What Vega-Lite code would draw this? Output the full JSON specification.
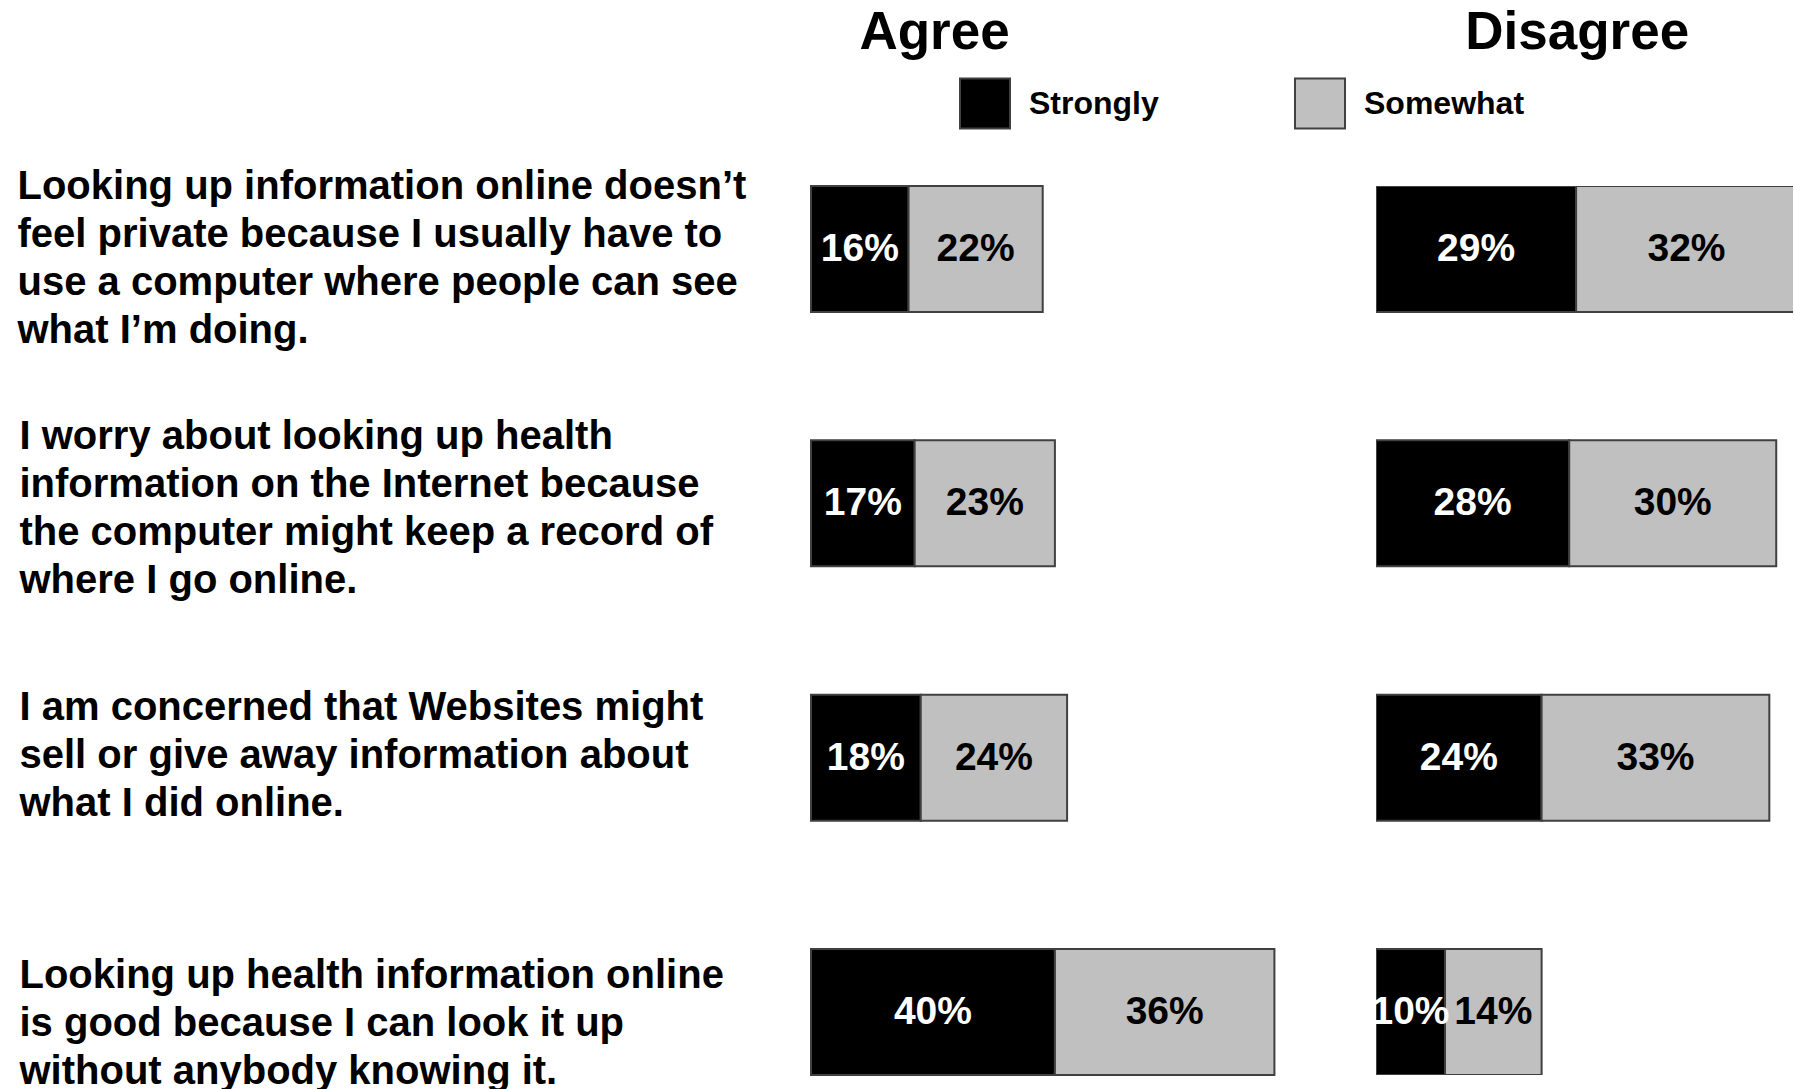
{
  "$schema": "https://vega.github.io/schema/vega-lite/v6.json",
  "padding": {"left": 17, "top": 6, "right": 0, "bottom": 0},
  "autosize": {"type": "pad"},
  "background": "white",
  "bounds": "flush",
  "config": {"font": "Liberation Sans", "view": {"stroke": null}},
  "spacing": 65,
  "resolve": {"scale": {"x": "independent"}},
  "datasets": {
    "survey": [
      {"q": "Looking up information online doesn’t|feel private because I usually have to|use a computer where people can see|what I’m doing.", "side": "Agree", "level": "Strongly", "rank": 1, "pct": 0.16},
      {"q": "Looking up information online doesn’t|feel private because I usually have to|use a computer where people can see|what I’m doing.", "side": "Agree", "level": "Somewhat", "rank": 2, "pct": 0.22},
      {"q": "Looking up information online doesn’t|feel private because I usually have to|use a computer where people can see|what I’m doing.", "side": "Disagree", "level": "Strongly", "rank": 1, "pct": 0.29},
      {"q": "Looking up information online doesn’t|feel private because I usually have to|use a computer where people can see|what I’m doing.", "side": "Disagree", "level": "Somewhat", "rank": 2, "pct": 0.32},
      {"q": "I worry about looking up health|information on the Internet because|the computer might keep a record of|where I go online.", "side": "Agree", "level": "Strongly", "rank": 1, "pct": 0.17},
      {"q": "I worry about looking up health|information on the Internet because|the computer might keep a record of|where I go online.", "side": "Agree", "level": "Somewhat", "rank": 2, "pct": 0.23},
      {"q": "I worry about looking up health|information on the Internet because|the computer might keep a record of|where I go online.", "side": "Disagree", "level": "Strongly", "rank": 1, "pct": 0.28},
      {"q": "I worry about looking up health|information on the Internet because|the computer might keep a record of|where I go online.", "side": "Disagree", "level": "Somewhat", "rank": 2, "pct": 0.30},
      {"q": "I am concerned that Websites might|sell or give away information about|what I did online.", "side": "Agree", "level": "Strongly", "rank": 1, "pct": 0.18},
      {"q": "I am concerned that Websites might|sell or give away information about|what I did online.", "side": "Agree", "level": "Somewhat", "rank": 2, "pct": 0.24},
      {"q": "I am concerned that Websites might|sell or give away information about|what I did online.", "side": "Disagree", "level": "Strongly", "rank": 1, "pct": 0.24},
      {"q": "I am concerned that Websites might|sell or give away information about|what I did online.", "side": "Disagree", "level": "Somewhat", "rank": 2, "pct": 0.33},
      {"q": "Looking up health information online|is good because I can look it up|without anybody knowing it.", "side": "Agree", "level": "Strongly", "rank": 1, "pct": 0.40},
      {"q": "Looking up health information online|is good because I can look it up|without anybody knowing it.", "side": "Agree", "level": "Somewhat", "rank": 2, "pct": 0.36},
      {"q": "Looking up health information online|is good because I can look it up|without anybody knowing it.", "side": "Disagree", "level": "Strongly", "rank": 1, "pct": 0.10},
      {"q": "Looking up health information online|is good because I can look it up|without anybody knowing it.", "side": "Disagree", "level": "Somewhat", "rank": 2, "pct": 0.14}
    ]
  },
  "hconcat": [
    {
      "width": 500,
      "height": 889,
      "data": {"name": "survey"},
      "transform": [
        {"filter": "datum.side === 'Agree'"},
        {"stack": "pct", "groupby": ["q"], "sort": [{"field": "rank"}], "as": ["x0", "x1"]},
        {"calculate": "(datum.x0 + datum.x1) / 2", "as": "xm"}
      ],
      "encoding": {
        "y": {
          "field": "q", "type": "nominal", "sort": null,
          "scale": {"paddingInner": 0.5047, "paddingOuter": 0},
          "axis": {
            "orient": "left", "title": null, "ticks": false, "tickSize": 0, "domain": false, "grid": false,
            "labelAlign": "left", "labelBaseline": "middle",
            "labelPadding": {"condition": {"test": "indexof(datum.value, 'doesn') >= 0", "value": 794}, "value": 792},
            "labelOffset": {"condition": [
              {"test": "indexof(datum.value, 'doesn') >= 0", "value": -62.4},
              {"test": "indexof(datum.value, 'I worry') >= 0", "value": -66.4},
              {"test": "indexof(datum.value, 'Websites') >= 0", "value": -50}
            ], "value": -36.4},
            "labelFontSize": 40, "labelFontWeight": "bold", "labelColor": "black",
            "labelLineHeight": 48, "labelLimit": 2000, "labelOverlap": false,
            "labelExpr": "split(datum.label, '|')"
          }
        }
      },
      "layer": [
        {
          "mark": {"type": "bar", "stroke": "#404040", "strokeWidth": 2},
          "encoding": {
            "x": {
              "field": "x0", "type": "quantitative",
              "scale": {"domain": [0, 0.82], "nice": false, "zero": true},
              "axis": {
                "orient": "top", "title": "Agree", "labels": false, "ticks": false, "domain": false, "grid": false,
                "titleFontSize": 53, "titleFontWeight": "bold", "titleColor": "black",
                "titleX": 123, "titleY": -138, "titleAlign": "center", "titleBaseline": "alphabetic", "titleAngle": 0
              }
            },
            "x2": {"field": "x1"},
            "color": {
              "field": "level", "type": "nominal",
              "scale": {"domain": ["Strongly", "Somewhat"], "range": ["#000000", "#c0c0c0"]},
              "legend": {
                "orient": "none", "legendX": 148, "legendY": -108.4, "direction": "horizontal", "title": null,
                "symbolType": "square", "symbolSize": 2500, "symbolStrokeColor": "#404040", "symbolStrokeWidth": 2,
                "symbolOpacity": 1, "labelFontSize": 32, "labelFontWeight": "bold", "labelColor": "black",
                "labelOffset": 18, "columnPadding": 132, "labelLimit": 400
              }
            }
          }
        },
        {
          "mark": {"type": "text", "fontSize": 39, "fontWeight": "bold", "baseline": "middle"},
          "encoding": {
            "x": {"field": "xm", "type": "quantitative"},
            "text": {"field": "pct", "type": "quantitative", "format": ".0%"},
            "color": {"condition": {"test": "datum.level === 'Strongly'", "value": "white"}, "value": "black"}
          }
        }
      ]
    },
    {
      "width": 417,
      "height": 889,
      "data": {"name": "survey"},
      "transform": [
        {"filter": "datum.side === 'Disagree'"},
        {"stack": "pct", "groupby": ["q"], "sort": [{"field": "rank"}], "as": ["x0", "x1"]},
        {"calculate": "(datum.x0 + datum.x1) / 2", "as": "xm"}
      ],
      "encoding": {
        "y": {
          "field": "q", "type": "nominal", "sort": null,
          "scale": {"paddingInner": 0.5047, "paddingOuter": 0},
          "axis": null
        }
      },
      "layer": [
        {
          "mark": {"type": "bar", "stroke": "#404040", "strokeWidth": 2, "clip": true},
          "encoding": {
            "x": {
              "field": "x0", "type": "quantitative",
              "scale": {"domain": [0, 0.6043], "nice": false, "zero": true},
              "axis": {
                "orient": "top", "title": "Disagree", "labels": false, "ticks": false, "domain": false, "grid": false,
                "titleFontSize": 53, "titleFontWeight": "bold", "titleColor": "black",
                "titleX": 200.7, "titleY": -138, "titleAlign": "center", "titleBaseline": "alphabetic", "titleAngle": 0
              }
            },
            "x2": {"field": "x1"},
            "color": {
              "field": "level", "type": "nominal",
              "scale": {"domain": ["Strongly", "Somewhat"], "range": ["#000000", "#c0c0c0"]}
            }
          }
        },
        {
          "mark": {"type": "text", "fontSize": 39, "fontWeight": "bold", "baseline": "middle"},
          "encoding": {
            "x": {"field": "xm", "type": "quantitative"},
            "text": {"field": "pct", "type": "quantitative", "format": ".0%"},
            "color": {"condition": {"test": "datum.level === 'Strongly'", "value": "white"}, "value": "black"}
          }
        }
      ]
    }
  ]
}
